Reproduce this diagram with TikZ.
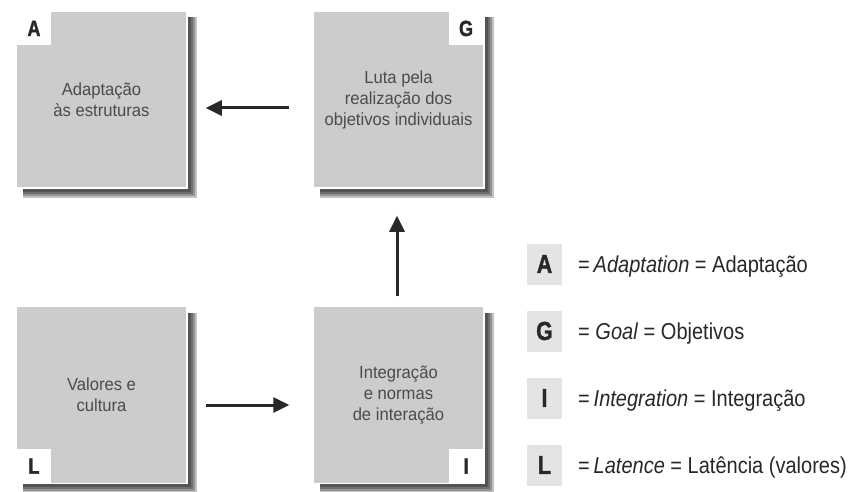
\documentclass[tikz,border=0pt]{standalone}
\usepackage{fontspec}
\setmainfont{Liberation Sans}
\newfontfamily\boxfont[FakeStretch=0.95]{Liberation Sans}
\newfontfamily\keyfont[FakeStretch=0.87]{Liberation Sans}
\newfontfamily\tagfont[FakeStretch=0.82,FakeBold=1.5]{Liberation Sans Bold}

\usetikzlibrary{arrows.meta,backgrounds}

\definecolor{boxgray}{RGB}{204,204,204}
\definecolor{keygray}{RGB}{228,228,228}
\definecolor{ink}{RGB}{40,40,40}
\definecolor{boxink}{RGB}{75,75,75}

\tikzset{
  quad/.style={fill=boxgray, draw=white, line width=1.5pt,
    minimum width=171pt, minimum height=177pt, inner sep=0pt,
    align=center, text=boxink,
    font=\boxfont\fontsize{17.5}{21}\selectfont},
  tag/.style={fill=white, minimum width=35pt, minimum height=34pt,
    inner sep=0pt, text=ink,
    font=\tagfont\fontsize{22}{22}\selectfont},
  keytag/.style={fill=keygray, minimum width=35pt, minimum height=41pt,
    inner sep=0pt, text=ink,
    font=\tagfont\fontsize{26}{26}\selectfont},
  keytext/.style={anchor=base west, inner sep=0pt, text=ink,
    font=\keyfont\fontsize{23}{23}\selectfont},
  flow/.style={line width=3pt, draw=ink,
    -{Triangle[length=16pt,width=15pt]}},
}

% soft drop shadow below and right of a box
\newcommand\quadshadow[1]{%
  \foreach \k in {3,5,7,9}
    \fill[black,opacity=0.24]
      ([shift={(8pt,-7pt)}]#1.north west)
      rectangle ([shift={(\k pt,-\k pt)}]#1.south east);
}

\begin{document}
\begin{tikzpicture}[x=1pt,y=-1pt]
  \path[use as bounding box] (0,0) rectangle (861,492);

  % the four AGIL boxes
  \node[quad] (A) at (101.5,99.5) {Adaptação\\às estruturas};
  \node[quad] (G) at (398.5,99.5) {Luta pela\\realização dos\\objetivos individuais};
  \node[quad] (L) at (101.5,395) {Valores e\\cultura};
  \node[quad] (I) at (398.5,395) {Integração\\e normas\\de interação};

  % corner letters
  \node[tag, anchor=north west] (tA) at ([shift={(1pt,-1pt)}]A.north west) {A};
  \node[tag, anchor=north east] (tG) at ([shift={(-1pt,-1pt)}]G.north east) {G};
  \node[tag, anchor=south west] (tL) at ([shift={(1pt,1pt)}]L.south west) {L};
  \node[tag, anchor=south east] (tI) at ([shift={(-1pt,1pt)}]I.south east) {I};

  % flow between the functions
  \draw[flow] ([shift={(-23pt,-8.5pt)}]G.west) -- ([shift={(18pt,-8.5pt)}]A.east);
  \draw[flow] ([shift={(-1.5pt,9.5pt)}]I.north) -- ([shift={(-1.5pt,-27pt)}]G.south);
  \draw[flow] ([shift={(18pt,-10pt)}]L.east) -- ([shift={(-23pt,-10pt)}]I.west);

  % key
  \node[keytag] (kA) at (544.5,264) {A};
  \node[keytag] (kG) at (544.5,331) {G};
  \node[keytag] (kI) at (544.5,398) {I};
  \node[keytag] (kL) at (544.5,465) {L};
  \node[keytext] (dA) at (578,272.5) {=\,\textit{Adaptation} = Adaptação};
  \node[keytext] (dG) at (578,339.5) {= \textit{Goal} = Objetivos};
  \node[keytext] (dI) at (578,406.5) {=\,\textit{Integration} = Integração};
  \node[keytext] (dL) at (578,473.5) {=\,\textit{Latence} = Latência (valores)};

  \begin{scope}[on background layer]
    \fill[white] (0,0) rectangle (861,492);
    \quadshadow{A}
    \quadshadow{G}
    \quadshadow{L}
    \quadshadow{I}
  \end{scope}
\end{tikzpicture}
\end{document}
